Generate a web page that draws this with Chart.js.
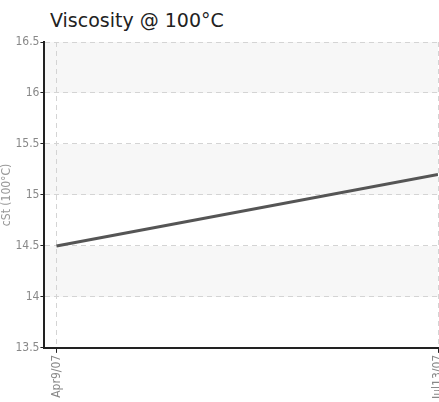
<!DOCTYPE html>
<html>
<head>
<meta charset="utf-8">
<script src="https://cdn.jsdelivr.net/npm/chart.js@4"></script>
<style>
  body { margin: 0; background: #fff; overflow: hidden; }
  #title { position: absolute; left: 50px; top: 11px; font: 19px/19px "DejaVu Sans", sans-serif; color: #222; }
  #wrap { position: absolute; left: 0; top: 30px; width: 439px; height: 371px; }
</style>
</head>
<body>
<div id="title">Viscosity @ 100°C</div>
<div id="wrap"><canvas id="viscosityChart"></canvas></div>
<script>
// sample dates, as days from the first sample
const dayOffsets = [0, 95];
const dateLabels = ["Apr9/07", "Jul13/07"];
const viscosity = [14.5, 15.2];
const yTicks = [13.5, 14, 14.5, 15, 15.5, 16, 16.5];

// "condensed" goes in the weight slot so the canvas font string gets a stretch keyword
const axisFont = { family: "'DejaVu Sans', sans-serif", weight: "condensed", size: 12 };

// light grey bands between every other pair of y gridlines
const bandPlugin = {
  id: "bands",
  beforeDraw(chart) {
    const { ctx, chartArea, scales } = chart;
    ctx.save();
    ctx.fillStyle = "#f7f7f7";
    for (let i = yTicks.length - 1; i > 0; i -= 2) {
      const top = scales.y.getPixelForValue(yTicks[i]);
      const bottom = scales.y.getPixelForValue(yTicks[i - 1]);
      ctx.fillRect(chartArea.left, top, chartArea.right - chartArea.left, bottom - top);
    }
    ctx.restore();
  },
};

const ctx = document.getElementById("viscosityChart").getContext("2d");
const chart = new Chart(ctx, {
  type: "line",
  data: {
    datasets: [
      {
        data: dayOffsets.map((d, i) => ({ x: d, y: viscosity[i] })),
        borderColor: "#555555",
        borderWidth: 3,
        pointRadius: 0,
        fill: false,
      },
    ],
  },
  options: {
    responsive: true,
    maintainAspectRatio: false,
    animation: false,
    layout: { padding: { top: 12, right: 1, left: 0, bottom: 0 } },
    plugins: { legend: { display: false }, tooltip: { enabled: false } },
    scales: {
      x: {
        type: "linear",
        min: -3,
        max: 95,
        afterBuildTicks: (axis) => {
          axis.ticks = dayOffsets.map((v) => ({ value: v }));
        },
        afterFit: (axis) => {
          // let the plot run to the right edge, the last label may be clipped
          axis.paddingRight = 0;
        },
        ticks: {
          callback: (value) => dateLabels[dayOffsets.indexOf(value)],
          color: "#888",
          font: axisFont,
          minRotation: 90,
          maxRotation: 90,
          padding: 2,
        },
        grid: { color: "#d4d4d4", tickColor: "#222", tickLength: 5, tickBorderDash: [] },
        border: { color: "#222", width: 2, dash: [5, 4] },
      },
      y: {
        min: 13.5,
        max: 16.5,
        afterBuildTicks: (axis) => {
          axis.ticks = yTicks.map((v) => ({ value: v }));
        },
        ticks: { color: "#888", font: axisFont, padding: 1, callback: (value) => String(value) },
        title: { display: true, text: "cSt (100°C)", color: "#999", font: axisFont, padding: 0 },
        grid: { color: "#d4d4d4", tickColor: "#222", tickLength: 4, tickBorderDash: [] },
        border: { color: "#222", width: 2, dash: [5, 4] },
      },
    },
  },
  plugins: [bandPlugin],
});
</script>
</body>
</html>
